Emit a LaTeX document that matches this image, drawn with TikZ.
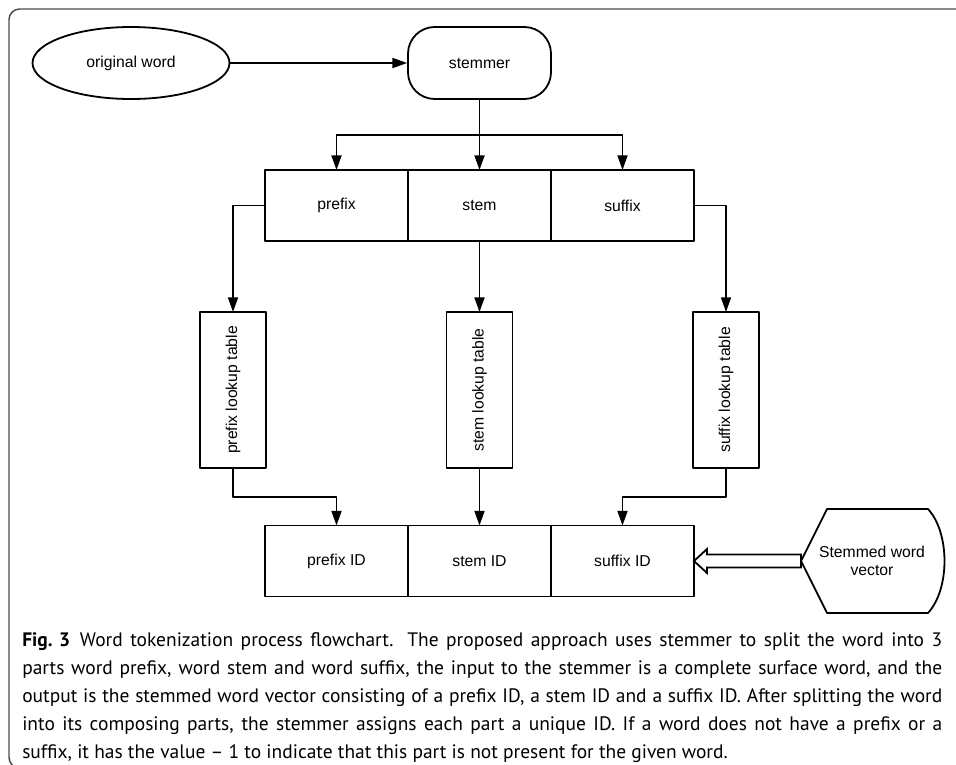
\documentclass[tikz,border=0pt]{standalone}
\usepackage{fontspec}
\setmainfont{Liberation Sans}
\newfontfamily\captionfont{PT Sans}
\usetikzlibrary{calc,arrows.meta,shapes.geometric}
\tikzset{flow/.style={
  x=0.75pt,y=-0.75pt,
  >={Triangle[length=11pt,width=7.5pt]},line join=round,
  font=\fontsize{11.8}{14}\selectfont
}}
\tikzset{
  part/.style={draw,line width=1.35pt,minimum width=107.25pt,minimum height=53.25pt,inner sep=0pt,outer sep=0pt},
  lut/.style={draw,line width=1.35pt,minimum width=49.5pt,minimum height=117pt,inner sep=0pt,outer sep=0pt},
  link/.style={->,line width=1.35pt}
}

\begin{document}
\begin{tikzpicture}[flow]
  \useasboundingbox (0,0) rectangle (956,764);
  \clip (0,0) rectangle (956,764);
  % frame
  \draw[gray!60!black,line width=1.1pt,rounded corners=8pt] (40,768) -- (9,768) -- (9,9) -- (970,9);

  \node[ellipse,draw,line width=1.35pt,minimum width=147.75pt,minimum height=54pt,inner sep=0pt] (orig) at (131,63) {original word};
  \node[draw,line width=1.35pt,rounded corners=20pt,minimum width=107.25pt,minimum height=54pt,inner sep=0pt] (stemmer) at (479.5,63) {stemmer};

  \node[part] (prefix) at (336.5,205.5) {prefix};
  \node[part] (stem) at (479.5,205.5) {stem};
  \node[part] (suffix) at (622.5,205.5) {suffix};

  \node[lut] (prefixlut) at (233,390) {\rotatebox{90}{prefix lookup table}};
  \node[lut] (stemlut) at (479.5,390) {\rotatebox{90}{stem lookup table}};
  \node[lut] (suffixlut) at (726,390) {\rotatebox{90}{suffix lookup table}};

  \node[part] (prefixid) at (336.5,561) {prefix ID};
  \node[part] (stemid) at (479.5,561) {stem ID};
  \node[part] (suffixid) at (622.5,561) {suffix ID};

  % stemmed word vector
  \coordinate (vtip) at (801,561);
  \draw[line width=1.35pt] (vtip) -- (827,509) -- (928,509) .. controls (950,533) and (950,589) .. (928,613) -- (827,613) -- cycle;
  \node[align=center] (vector) at (872,561) {Stemmed word\\vector};

  \draw[link] (orig) -- (stemmer);
  \coordinate (split) at (479.5,135);
  \draw[link] (stemmer) -- (stem);
  \draw[link] (split) -| (prefix.north);
  \draw[link] (split) -| (suffix.north);

  \draw[link] (prefix.west) -| (prefixlut.north);
  \draw[link] (stem) -- (stemlut);
  \draw[link] (suffix.east) -| (suffixlut.north);

  \draw[link] (prefixlut.south) -- ++(0,29) -| (prefixid.north);
  \draw[link] (stemlut) -- (stemid);
  \draw[link] (suffixlut.south) -- ++(0,29) -| (suffixid.north);

  \draw[line width=1.35pt,line join=miter,fill=white] (suffixid.east) -- ++(13,-12) -- ++(0,5.5) -- ($(vtip)+(0,-6.5)$)
    -- ($(vtip)+(0,6.5)$) -- ($(suffixid.east)+(13,6.5)$) -- ++(0,5.5) -- cycle;

  \node[anchor=north west,text width=690pt,align=justify,inner sep=0pt,font=\captionfont\fontsize{14.6}{21}\selectfont] (caption) at (22,632)
    {\textbf{\mbox{Fig. 3}}\enspace Word tokenization process flowchart. The proposed approach uses stemmer to split the word into 3\linebreak
     parts word prefix, word stem and word suffix, the input to the stemmer is a complete surface word, and the\linebreak
     output is the stemmed word vector consisting of a prefix ID, a stem ID and a suffix ID. After splitting the word\linebreak
     into its composing parts, the stemmer assigns each part a unique ID. If a word does not have a prefix or a\linebreak
     suffix, it has the value – 1 to indicate that this part is not present for the given word.};
\end{tikzpicture}
\end{document}
